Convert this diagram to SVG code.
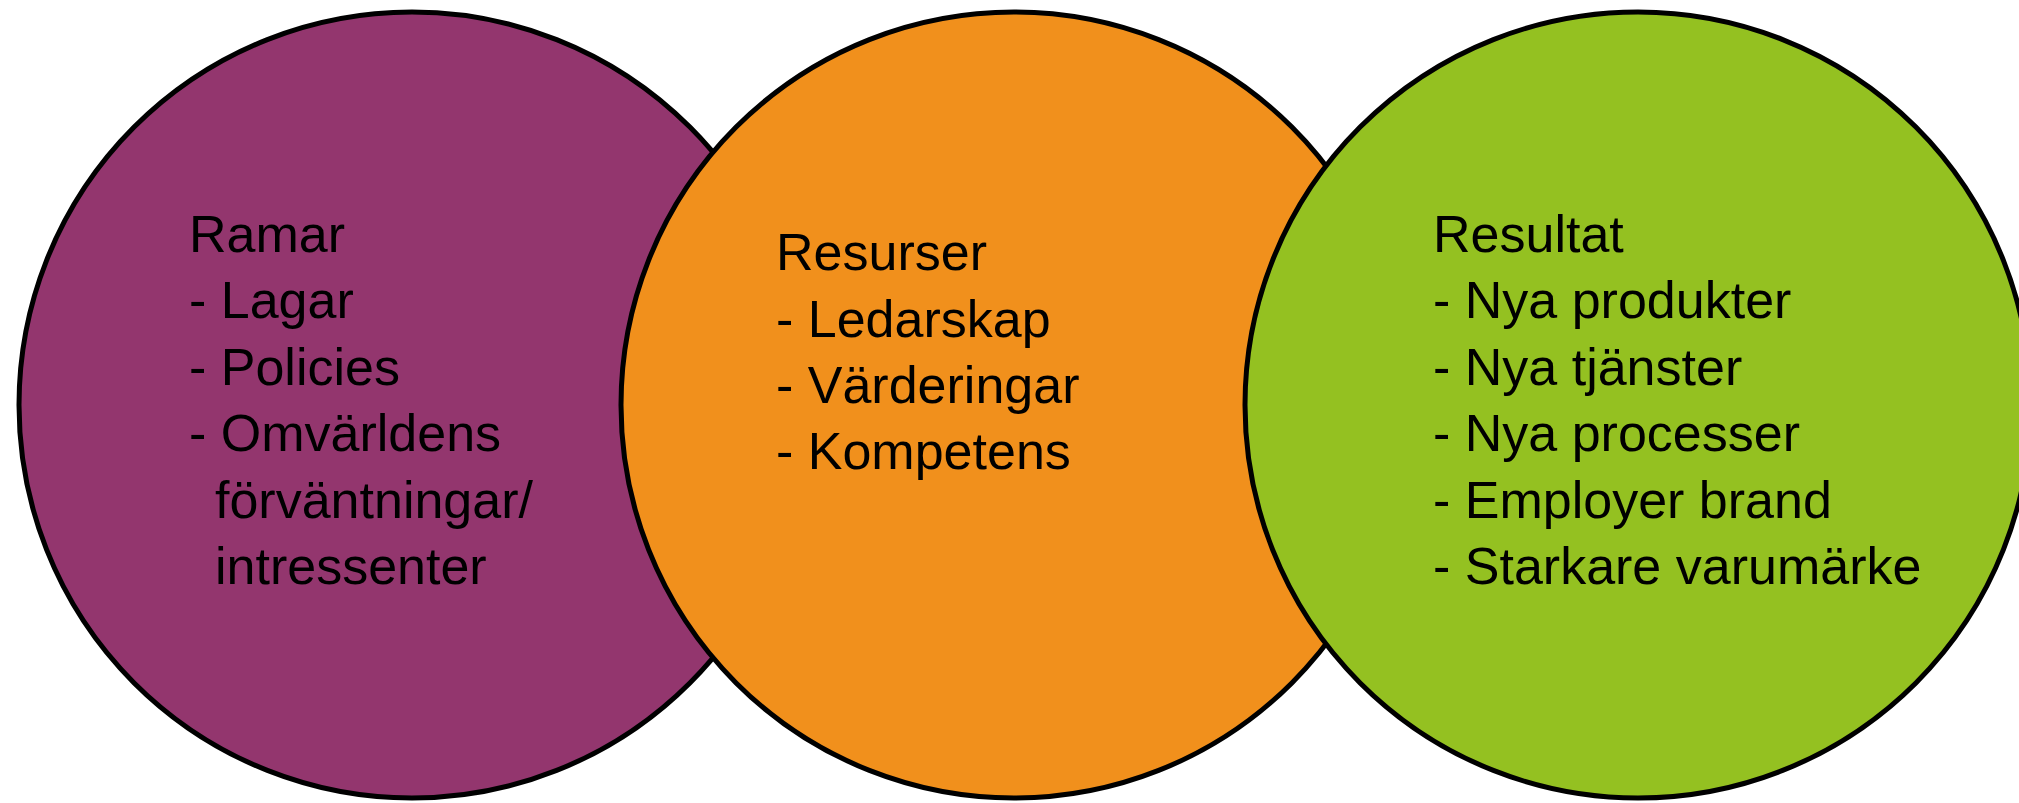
<svg xmlns="http://www.w3.org/2000/svg" width="2019" height="803" viewBox="0 0 2019 803">
<style>
.c{stroke:#000;stroke-width:5}
.t{font-family:"Liberation Sans",Arial,sans-serif;font-size:52px;fill:#000}
</style>
<rect width="2019" height="803" fill="#fff"/>
<g id="ramar">
<circle class="c" cx="412" cy="405" r="393" fill="#93366E"/>
<text class="t"><tspan x="189" y="252">Ramar</tspan><tspan x="189" y="318">- Lagar</tspan><tspan x="189" y="385">- Policies</tspan><tspan x="189" y="451">- Omvärldens</tspan><tspan x="215" y="518">förväntningar/</tspan><tspan x="215" y="584">intressenter</tspan></text>
</g>
<g id="resurser">
<circle class="c" cx="1014" cy="405" r="393" fill="#F1901C"/>
<text class="t"><tspan x="776" y="270">Resurser</tspan><tspan x="776" y="337">- Ledarskap</tspan><tspan x="776" y="403">- Värderingar</tspan><tspan x="776" y="469">- Kompetens</tspan></text>
</g>
<g id="resultat">
<circle class="c" cx="1638" cy="405" r="393" fill="#94C121"/>
<text class="t"><tspan x="1433" y="252">Resultat</tspan><tspan x="1433" y="318">- Nya produkter</tspan><tspan x="1433" y="385">- Nya tjänster</tspan><tspan x="1433" y="451">- Nya processer</tspan><tspan x="1433" y="518">- Employer brand</tspan><tspan x="1433" y="584">- Starkare varumärke</tspan></text>
</g>
<g id="connectors"/>
</svg>
